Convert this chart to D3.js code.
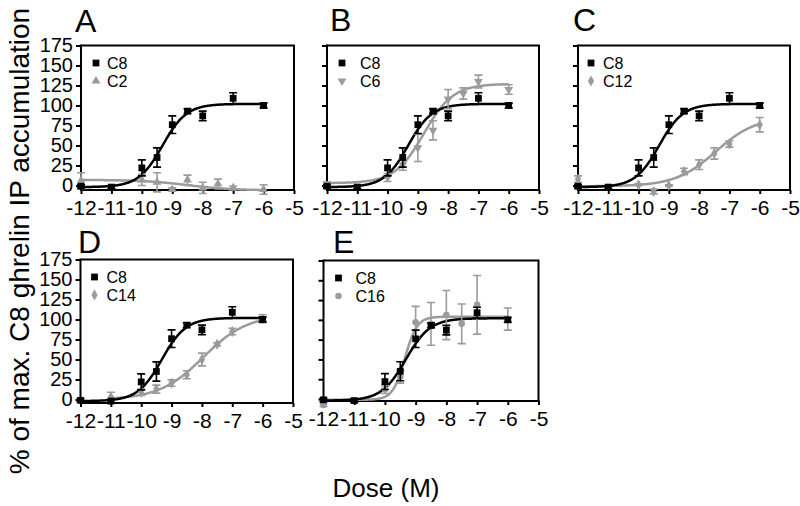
<!DOCTYPE html>
<html><head><meta charset="utf-8">
<script src="https://cdn.jsdelivr.net/npm/d3@7"></script>
<style>body{margin:0;background:#fff} text{font-family:"Liberation Sans",Arial,sans-serif}</style>
</head><body><svg id="c" width="800" height="506" style="display:block"></svg>
<script>
// ---- data ----
const xTicks = [-12,-11,-10,-9,-8,-7,-6,-5];
const yTicks = [0,25,50,75,100,125,150,175];
const panelLetters = ["A","B","C","D","E"];
const compoundNames = ["C2","C6","C12","C14","C16"];

const c8Doses  = [-12,-11,-10,-9.5,-9,-8.5,-8,-7,-6];
const c8Values = [-1,-2,22,35,76,93,87,109,100];
const c8Errors = [2,2,10,12,11,3,6,7,3];
const c8Fit    = [-2,102,-9.32,1.1];   // bottom, top, logEC50, hill

const c2Doses  = [-12,-10,-9.5,-9,-8.5,-8,-7.5,-7,-6];
const c2Values = [6,7,4,-5,7,-3,2,-3,-5];
const c2Errors = [10,7,12,2,6,7,6,2,6];
const c2Fit    = [-6,7,-8.5,-0.6];

const c6Doses  = [-12,-10,-9.5,-9,-8.5,-8,-7.5,-7,-6];
const c6Values = [2,10,26,47,69,108,115,130,120];
const c6Errors = [2,5,7,17,12,12,7,8,6];
const c6Fit    = [3,127,-8.8,0.9];

const c12Doses  = [-12,-10,-9.5,-9,-8.5,-8,-7.5,-7,-6];
const c12Values = [8,1,-7.5,0,17.5,26,40,52,76];
const c12Errors = [4,1,3,1,4,6,7,4,9];
const c12Fit    = [-1,86,-7.45,0.65];

const c14Doses  = [-11,-10,-9.5,-9,-8.5,-8,-7.5,-7,-6];
const c14Values = [3,9,13,20.5,31,50,69,85,101];
const c14Errors = [6,4,5,4,5,8,2,4,5];
const c14Fit    = [0,106,-7.95,0.6];

const c16Doses  = [-12,-10,-9.5,-9,-8.5,-8,-7.5,-7,-6];
const c16Values = [-7.5,12,28,97,95,106,95,119,101];
const c16Errors = [2,5,8,20,27,31,25,37,14];
const c16Fit    = [-1,104,-9.35,2.2];

// ---- layout ----
const panels = [
  {letter:0, x0:81,  x1:294, top:45.5, zero:185.5, bottom:190, lx:75,  ly:31.5, legX:15, legT:26, yLabels:true,
   doses:c2Doses, vals:c2Values, errs:c2Errors, fit:c2Fit, sym:"tri", curveStart:-12},
  {letter:1, x0:327, x1:539, top:45.5, zero:185.5, bottom:190, lx:330, ly:30.5, legX:15, legT:33, yLabels:false,
   doses:c6Doses, vals:c6Values, errs:c6Errors, fit:c6Fit, sym:"tridown", curveStart:-12},
  {letter:2, x0:578, x1:790, top:45.5, zero:185.5, bottom:190, lx:573, ly:30.5, legX:13, legT:25, yLabels:false,
   doses:c12Doses, vals:c12Values, errs:c12Errors, fit:c12Fit, sym:"diamond", curveStart:-12},
  {letter:3, x0:80.5, x1:293, top:259.5, zero:399.5, bottom:403, lx:78, ly:253, legX:14, legT:26, yLabels:true,
   doses:c14Doses, vals:c14Values, errs:c14Errors, fit:c14Fit, sym:"diamond", curveStart:-11},
  {letter:4, x0:323.5, x1:538.5, top:260.5, zero:399, bottom:401, lx:333, ly:253, legX:15, legT:32, yLabels:false,
   doses:c16Doses, vals:c16Values, errs:c16Errors, fit:c16Fit, sym:"circle", curveStart:-12}
];

const BLACK = "#000", GRAY = "#9b9b9b";
const svg = d3.select("#c");

function logistic(p, x){ return p[0] + (p[1]-p[0])/(1+Math.pow(10,(p[2]-x)*p[3])); }

function symbolPath(kind){
  if(kind==="square") return d3.symbol(d3.symbolSquare, 46)();
  if(kind==="tri") return d3.symbol(d3.symbolTriangle, 34)();
  if(kind==="tridown") return d3.symbol(d3.symbolTriangle, 34)();
  if(kind==="diamond") return d3.symbol(d3.symbolDiamond, 34)();
  return d3.symbol(d3.symbolCircle, 34)();
}
function symRotate(kind){ return kind==="tridown" ? " rotate(180)" : ""; }

panels.forEach(P => {
  const x = d3.scaleLinear().domain([-12,-5]).range([P.x0, P.x1]);
  const unit = (P.zero - P.top)/175;
  const yMin = -(P.bottom - P.zero)/unit;
  const y = d3.scaleLinear().domain([yMin,175]).range([P.bottom, P.top]);
  const g = svg.append("g");

  // frame top/right
  g.append("path").attr("d",`M${P.x0},${P.top}H${P.x1}V${P.bottom}`)
    .attr("fill","none").attr("stroke",BLACK).attr("stroke-width",2);

  // axes
  const ya = g.append("g").attr("transform",`translate(${P.x0},0)`)
    .call(d3.axisLeft(y).tickValues(yTicks).tickSize(5).tickPadding(3)
      .tickFormat(P.yLabels ? d3.format("d") : ""));
  const xa = g.append("g").attr("transform",`translate(0,${P.bottom})`)
    .call(d3.axisBottom(x).tickValues(xTicks).tickSize(4).tickPadding(6).tickFormat(d=>"-"+Math.abs(d)));
  [ya,xa].forEach(a=>{
    a.select(".domain").attr("stroke",BLACK).attr("stroke-width",2);
    a.selectAll(".tick line").attr("stroke",BLACK).attr("stroke-width",2);
  });
  ya.selectAll(".domain").attr("d",`M-0,${P.bottom+1}V${P.top-1}`);
  xa.selectAll(".domain").attr("d",`M${P.x0-1},0H${P.x1+1}`);
  ya.selectAll("text").attr("font-size",20).attr("fill","#000").attr("font-family","Liberation Sans, Arial, sans-serif");
  xa.selectAll("text").attr("font-size",21).attr("fill","#000").attr("font-family","Liberation Sans, Arial, sans-serif");

  // panel letter
  svg.append("text").attr("x",P.lx).attr("y",P.ly).attr("font-size",32).text(panelLetters[P.letter]);

  // curves
  let curFit;
  const line = d3.line().x(d=>x(d)).y(d=>y(logistic(curFit,d)));
  const samples = s => d3.range(s, -6.0001, 0.02).concat([-6]);
  curFit = P.fit;
  g.append("path").attr("d",line(samples(P.curveStart))).attr("fill","none").attr("stroke",GRAY).attr("stroke-width",2.5);
  curFit = c8Fit;
  g.append("path").attr("d",line(samples(-12))).attr("fill","none").attr("stroke",BLACK).attr("stroke-width",2.5);

  // error bars + markers
  function series(ds, vs, es, color, kind){
    ds.forEach((d,i)=>{
      const cx = x(d), v = vs[i], e = es[i];
      const y1 = y(v+e), y2 = y(v-e);
      g.append("path").attr("d",`M${cx},${y1}V${y2}M${cx-4},${y1}H${cx+4}M${cx-4},${y2}H${cx+4}`)
        .attr("stroke",color).attr("stroke-width",1.6).attr("fill","none");
      g.append("path").attr("d",symbolPath(kind)).attr("transform",`translate(${cx},${y(v)})`+symRotate(kind)).attr("fill",color);
    });
  }
  series(P.doses, P.vals, P.errs, GRAY, P.sym);
  series(c8Doses, c8Values, c8Errors, BLACK, "square");

  // legend
  const lx = P.x0 + P.legX, tx = P.x0 + P.legT, b1 = P.top + 23.5, b2 = b1 + 18;
  svg.append("path").attr("d",symbolPath("square")).attr("transform",`translate(${lx},${b1-6})`).attr("fill",BLACK);
  svg.append("text").attr("x",tx).attr("y",b1).attr("font-size",16).text("C8");
  svg.append("path").attr("d",symbolPath(P.sym)).attr("transform",`translate(${lx},${b2-6})`+symRotate(P.sym)).attr("fill",GRAY);
  svg.append("text").attr("x",tx).attr("y",b2).attr("font-size",16).text(compoundNames[P.letter]);
});

// axis titles
svg.append("text").attr("transform","translate(29,241) rotate(-90)").attr("text-anchor","middle")
  .attr("font-size",28).text("% of max. C8 ghrelin IP accumulation");
svg.append("text").attr("x",386).attr("y",497).attr("text-anchor","middle").attr("font-size",26).text("Dose (M)");
</script></body></html>
